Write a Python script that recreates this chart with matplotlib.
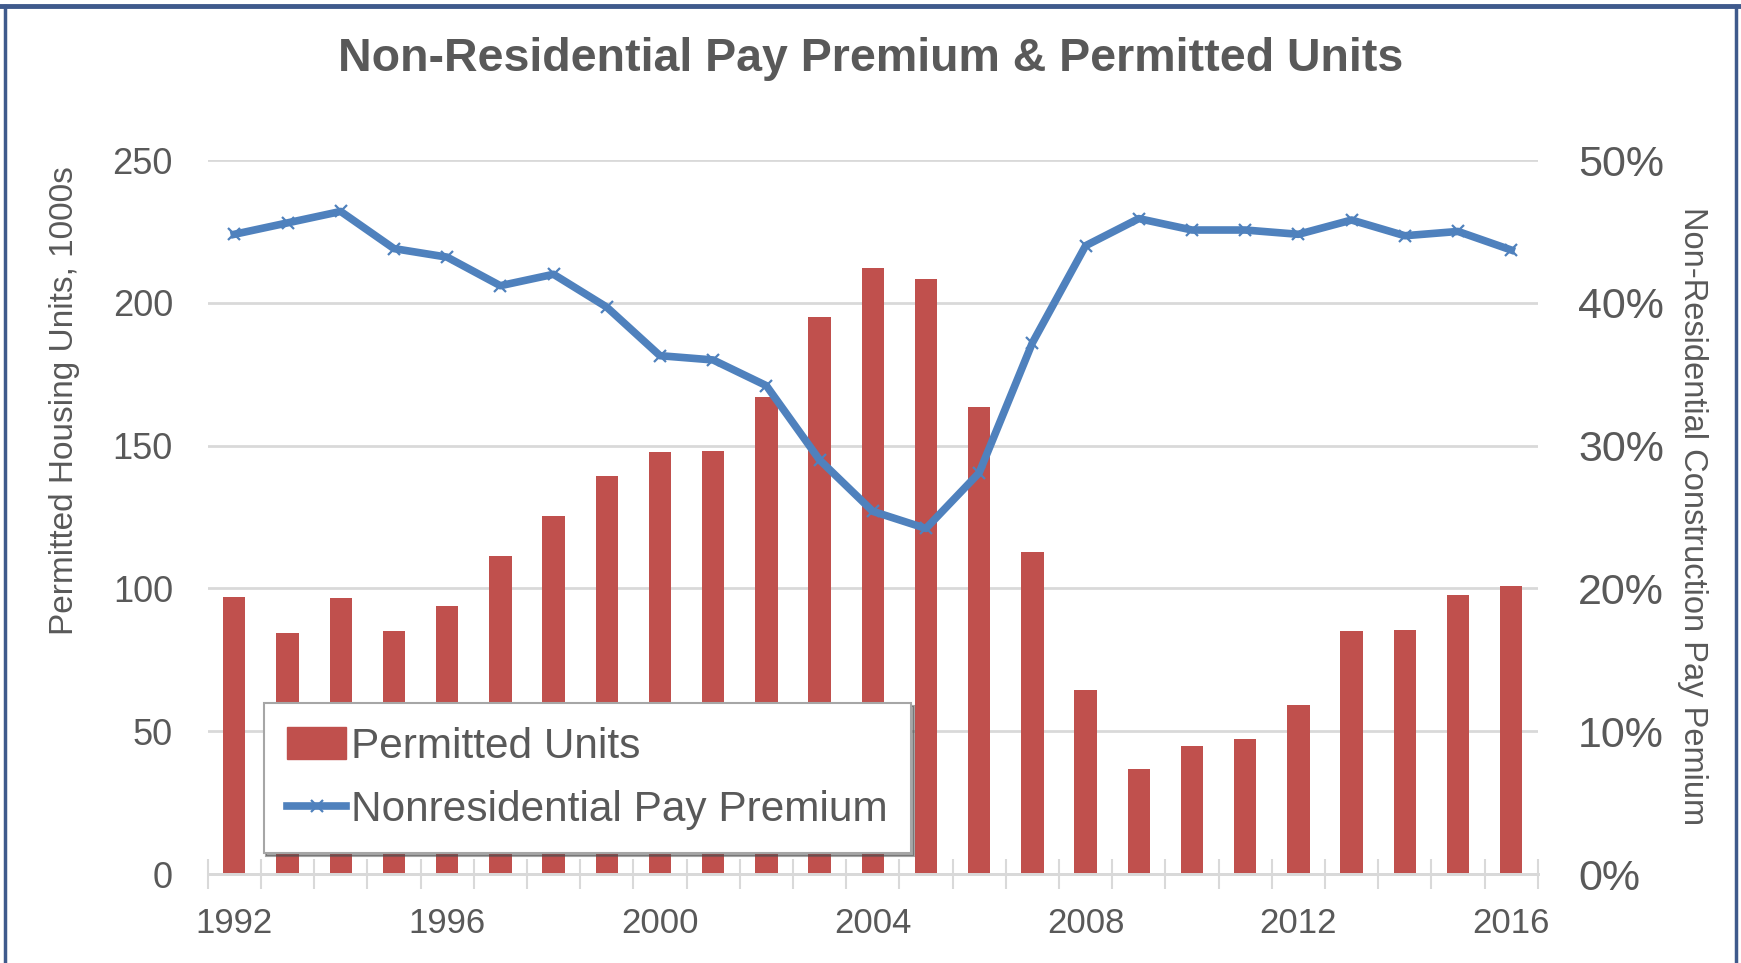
import matplotlib.pyplot as plt
from matplotlib.ticker import PercentFormatter
from matplotlib.lines import Line2D
import numpy as np

years = list(range(1992, 2017))
units = [97.0, 84.3, 96.6, 85.1, 93.8, 111.3, 125.3, 139.5, 147.9, 148.2, 167.2, 195.0,
         212.3, 208.3, 163.7, 112.7, 64.5, 36.6, 44.8, 47.4, 59.1, 85.1, 85.5, 97.8, 100.7]
premium = [44.8, 45.6, 46.4, 43.8, 43.2, 41.2, 42.0, 39.7, 36.3, 36.0, 34.2, 29.0,
           25.4, 24.2, 28.1, 37.2, 44.0, 45.9, 45.1, 45.1, 44.8, 45.8, 44.7, 45.0, 43.7]
left_ticks = [0, 50, 100, 150, 200, 250]
right_ticks = [0, 10, 20, 30, 40, 50]
year_labels = [1992, 1996, 2000, 2004, 2008, 2012, 2016]

narrow = ['Liberation Sans Narrow', 'Liberation Sans', 'DejaVu Sans']
regular = ['Liberation Sans', 'DejaVu Sans']
grey = '#595959'
bar_red = '#C0504D'
line_blue = '#4F81BD'

fig = plt.figure(figsize=(17.41, 9.63), dpi=100)
ax = fig.add_axes([0.1193, 0.0924, 0.764, 0.7414])
ax2 = ax.twinx()

x = np.arange(len(years))
ax.bar(x, units, width=0.42, color=bar_red, zorder=2)
ax2.plot(x, premium, color=line_blue, lw=5.5, marker='x', ms=9, mew=1.6, zorder=3)

ax.set_xlim(-0.5, len(years) - 0.5)
ax.set_ylim(0, 250)
ax2.set_ylim(0, 50)
ax.set_yticks(left_ticks)
ax2.set_yticks(right_ticks)
ax2.yaxis.set_major_formatter(PercentFormatter(decimals=0))

ax.grid(axis='y', color='#D9D9D9', lw=2, zorder=0)
ax.set_axisbelow(True)
for a in (ax, ax2):
    for s in ['top', 'right', 'left']:
        a.spines[s].set_visible(False)
    a.spines['bottom'].set_color('#D9D9D9')
    a.spines['bottom'].set_linewidth(2)

# category boundary ticks on x axis
ax.set_xticks(np.arange(-0.5, len(years), 1), minor=True)
ax.tick_params(axis='x', which='minor', length=22, width=1.5, color='#D9D9D9', direction='inout')
pos = [years.index(y) for y in year_labels]
ax.set_xticks(pos)
ax.set_xticklabels([str(y) for y in year_labels], family=narrow, fontsize=25, color=grey)
ax.tick_params(axis='x', which='major', length=0, pad=24)

ax.set_yticklabels([str(t) for t in left_ticks], family=narrow, fontsize=26, color=grey)
ax.tick_params(axis='y', length=0, pad=25)
ax2.set_yticklabels([f'{t}%' for t in right_ticks], family=regular, fontsize=31, color=grey)
ax2.tick_params(axis='y', length=0, pad=29)

fig.text(0.5, 0.939, 'Non-Residential Pay Premium & Permitted Units', ha='center', va='center',
         fontsize=33.5, fontweight='bold', color=grey, family=regular)
fig.text(0.037, 0.584, 'Permitted Housing Units, 1000s', rotation=90, ha='center', va='center',
         fontsize=24, color=grey, family=narrow)
fig.text(0.972, 0.464, 'Non-Residential Construction Pay Pemium', rotation=270, ha='center',
         va='center', fontsize=23.5, color=grey, family=narrow)

handles = [plt.Rectangle((0, 0), 1, 1, color=bar_red),
           Line2D([], [], color=line_blue, lw=5.5, marker='x', ms=9, mew=1.6)]
leg = ax2.legend(handles, ['Permitted Units', 'Nonresidential Pay Premium'],
                 loc='lower left', bbox_to_anchor=(0.042, 0.029), borderaxespad=0,
                 prop={'family': narrow, 'size': 30.5}, labelcolor=grey, fancybox=False,
                 shadow=True, framealpha=1, edgecolor='#A6A6A6', handlelength=1.4,
                 handleheight=0.8, handletextpad=0.12, labelspacing=0.55, borderpad=0.55)
leg.get_frame().set_linewidth(1.5)

# outer frame of the original slide
fig.add_artist(Line2D([0.003, 0.003], [0, 0.994], color='#3F5A8C', lw=2.5))
fig.add_artist(Line2D([0.997, 0.997], [0, 0.994], color='#3F5A8C', lw=2.5))
fig.add_artist(Line2D([0, 1], [0.994, 0.994], color='#3F5A8C', lw=3.5))

fig.savefig('out.png', dpi=100)
